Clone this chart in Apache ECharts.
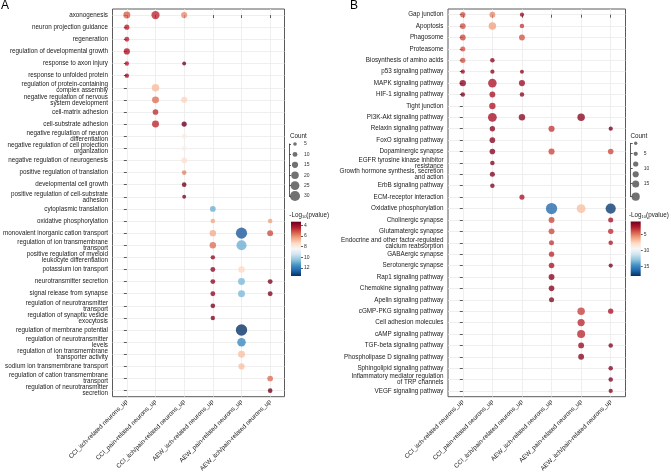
<!DOCTYPE html>
<html>
<head>
<meta charset="utf-8">
<script src="https://cdn.jsdelivr.net/npm/echarts@6/dist/echarts.min.js"></script>
<style>
  html, body { margin: 0; padding: 0; background: #fff; }
  #chart { width: 671px; height: 474px; }
</style>
</head>
<body>
<div id="chart"></div>
<script>
// columns (shared by both panels)
const groups = [
  "CCI_itch-related neurons_up",
  "CCI_pain-related neurons_up",
  "CCI_itch/pain-related neurons_up",
  "AEW_itch-related neurons_up",
  "AEW_pain-related neurons_up",
  "AEW_itch/pain-related neurons_up"
];

// panel A: GO terms
const termsA = [
  "axonogenesis",
  "neuron projection guidance",
  "regeneration",
  "regulation of developmental growth",
  "response to axon injury",
  "response to unfolded protein",
  "regulation of protein-containing\ncomplex assembly",
  "negative regulation of nervous\nsystem development",
  "cell-matrix adhesion",
  "cell-substrate adhesion",
  "negative regulation of neuron\ndifferentiation",
  "negative regulation of cell projection\norganization",
  "negative regulation of neurogenesis",
  "positive regulation of translation",
  "developmental cell growth",
  "positive regulation of cell-substrate\nadhesion",
  "cytoplasmic translation",
  "oxidative phosphorylation",
  "monovalent inorganic cation transport",
  "regulation of ion transmembrane\ntransport",
  "positive regulation of myeloid\nleukocyte differentiation",
  "potassium ion transport",
  "neurotransmitter secretion",
  "signal release from synapse",
  "regulation of neurotransmitter\ntransport",
  "regulation of synaptic vesicle\nexocytosis",
  "regulation of membrane potential",
  "regulation of neurotransmitter\nlevels",
  "regulation of ion transmembrane\ntransporter activity",
  "sodium ion transmembrane transport",
  "regulation of cation transmembrane\ntransport",
  "regulation of neurotransmitter\nsecretion"
];

// panel B: KEGG pathways
const termsB = [
  "Gap junction",
  "Apoptosis",
  "Phagosome",
  "Proteasome",
  "Biosynthesis of amino acids",
  "p53 signaling pathway",
  "MAPK signaling pathway",
  "HIF-1 signaling pathway",
  "Tight junction",
  "PI3K-Akt signaling pathway",
  "Relaxin signaling pathway",
  "FoxO signaling pathway",
  "Dopaminergic synapse",
  "EGFR tyrosine kinase inhibitor\nresistance",
  "Growth hormone synthesis, secretion\nand action",
  "ErbB signaling pathway",
  "ECM-receptor interaction",
  "Oxidative phosphorylation",
  "Cholinergic synapse",
  "Glutamatergic synapse",
  "Endocrine and other factor-regulated\ncalcium reabsorption",
  "GABAergic synapse",
  "Serotonergic synapse",
  "Rap1 signaling pathway",
  "Chemokine signaling pathway",
  "Apelin signaling pathway",
  "cGMP-PKG signaling pathway",
  "Cell adhesion molecules",
  "cAMP signaling pathway",
  "TGF-beta signaling pathway",
  "Phospholipase D signaling pathway",
  "Sphingolipid signaling pathway",
  "Inflammatory mediator regulation\nof TRP channels",
  "VEGF signaling pathway"
];

// [column, row, Count, -log10(pvalue)]
const dotsA = [
  [0, 0, 18, 5.4], [1, 0, 23, 4.6], [2, 0, 15, 6.0],
  [0, 1, 11, 4.5],
  [0, 2, 10, 4.5],
  [0, 3, 15, 4.3],
  [0, 4, 8, 4.4], [2, 4, 6, 3.5],
  [0, 5, 8, 4.1],
  [1, 6, 20, 6.8],
  [1, 7, 18, 5.6], [2, 7, 15, 7.3],
  [1, 8, 13, 4.7],
  [1, 9, 18, 4.6], [2, 9, 11, 3.4],
  [2, 10, 10, 8.0],
  [2, 11, 10, 8.1],
  [2, 12, 13, 7.6],
  [2, 13, 9, 5.9],
  [2, 14, 9, 3.5],
  [2, 15, 6, 3.6],
  [3, 16, 13, 10.9],
  [3, 17, 9, 6.4], [5, 17, 9, 6.3],
  [3, 18, 16, 6.5], [4, 18, 34, 12.7], [5, 18, 14, 5.1],
  [3, 19, 16, 5.6], [4, 19, 30, 10.9],
  [3, 20, 8, 3.9],
  [3, 21, 10, 3.9], [4, 21, 16, 7.4],
  [3, 22, 10, 3.9], [4, 22, 18, 10.7], [5, 22, 10, 3.7],
  [3, 23, 10, 3.9], [4, 23, 18, 10.7], [5, 23, 10, 3.7],
  [3, 24, 9, 3.7],
  [3, 25, 8, 3.7],
  [4, 26, 35, 13.4],
  [4, 27, 24, 11.7],
  [4, 28, 18, 6.9],
  [4, 29, 15, 6.9],
  [5, 30, 13, 5.6],
  [5, 31, 9, 3.5]
];

const dotsB = [
  [0, 0, 9, 4.3], [1, 0, 11, 5.5], [2, 0, 5, 2.4],
  [0, 1, 11, 4.2], [1, 1, 17, 6.1], [2, 1, 6, 3.7],
  [0, 2, 11, 4.0], [2, 2, 11, 4.3],
  [0, 3, 8, 4.2],
  [0, 4, 9, 4.3], [1, 4, 6, 2.0],
  [0, 5, 5, 2.3], [1, 5, 5, 2.0], [2, 5, 4, 2.0],
  [0, 6, 13, 2.0], [1, 6, 21, 2.7], [2, 6, 12, 2.3],
  [0, 7, 6, 1.9], [1, 7, 11, 2.7], [2, 7, 6, 2.0],
  [1, 8, 13, 2.8],
  [1, 9, 22, 2.5], [2, 9, 13, 2.0], [4, 9, 17, 1.9],
  [1, 10, 9, 1.9], [3, 10, 12, 3.6], [5, 10, 5, 1.5],
  [1, 11, 10, 1.9],
  [1, 12, 10, 1.8], [3, 12, 12, 3.9], [5, 12, 10, 4.0],
  [1, 13, 6, 1.8],
  [1, 14, 8, 1.8],
  [1, 15, 6, 1.8],
  [2, 16, 8, 2.7],
  [3, 17, 31, 16.0], [4, 17, 22, 7.0], [5, 17, 27, 17.5],
  [3, 18, 11, 3.9], [5, 18, 8, 2.6],
  [3, 19, 11, 4.0], [5, 19, 9, 3.3],
  [3, 20, 8, 3.6], [5, 20, 6, 2.8],
  [3, 21, 9, 3.2],
  [3, 22, 10, 2.7], [5, 22, 5, 1.5],
  [3, 23, 11, 1.8],
  [3, 24, 10, 1.8],
  [3, 25, 8, 1.8],
  [4, 26, 17, 3.8], [5, 26, 9, 2.7],
  [4, 27, 16, 3.2],
  [4, 28, 19, 3.2],
  [4, 29, 11, 2.2], [5, 29, 6, 1.8],
  [4, 30, 11, 1.9],
  [5, 31, 6, 1.8],
  [5, 32, 6, 1.8],
  [5, 33, 5, 1.8]
];

// legends
const countKeysA = [5, 10, 15, 20, 25, 30];
const countKeysB = [1.7, 5.2, 8.6, 12, 15.3, 19.5];
const countRangeB = [1.7, 19.5];
const countTicksB = [5, 10, 15];
const colorTicksA = [4, 6, 8, 10, 12];
const colorTicksB = [5, 10, 15];
const colorRangeA = [3.33, 13.5];
const colorRangeB = [1.1, 17.9];

// RdBu, low -log10(p) = dark red
const rdbu = ["#67001f", "#b2182b", "#d6604d", "#f4a582", "#fddbc7", "#f7f7f7",
  "#d1e5f0", "#92c5de", "#4393c3", "#2166ac", "#053061"];

const FONT = "Liberation Sans, Arial, sans-serif";
const TXT = "#1a1a1a";
const sizeA = c => 2.3 + 0.26 * c;
const sizeB = c => 2.9 + 0.27 * c;

const gridA = { left: 108.5, top: 9, width: 176, height: 390 };
const gridB = { left: 448, top: 9, width: 177.5, height: 390 };
const cbarA = { left: 291, top: 221.7, width: 10, height: 54.3 };
const cbarB = { left: 630.7, top: 221.5, width: 10, height: 54.5 };

const idx = n => Array.from({ length: n }, (_, i) => i);
const tickLine = { color: "#333", width: 0.8 };

function mainX(gi) {
  return {
    gridIndex: gi, type: "value", min: -0.5, max: groups.length - 0.5,
    minInterval: 1, maxInterval: 1,
    axisLine: { show: false },
    axisTick: { show: true, length: 3, customValues: idx(groups.length), lineStyle: tickLine },
    axisLabel: { customValues: idx(groups.length), rotate: 45, fontSize: 6.3,
      color: TXT, margin: 4, fontFamily: FONT, formatter: v => groups[v] || "" },
    splitLine: { show: true, lineStyle: { color: "#ebebeb", width: 0.8 } }
  };
}

function mainY(gi, terms) {
  return {
    gridIndex: gi, type: "value", inverse: true, min: -0.5, max: terms.length - 0.5,
    minInterval: 1, maxInterval: 1,
    axisLine: { show: false },
    axisTick: { show: true, length: 3, customValues: idx(terms.length), lineStyle: tickLine },
    axisLabel: { customValues: idx(terms.length), fontSize: 6.3, lineHeight: 6,
      color: TXT, margin: 4.5, fontFamily: FONT, formatter: v => terms[v] || "" },
    splitLine: { show: true, lineStyle: { color: "#ebebeb", width: 0.8 } }
  };
}

// size key, panel A: one labelled key per row
const legendYA = {
  gridIndex: 2, type: "category", data: countKeysA.map(String),
  boundaryGap: false, inverse: true, position: "right",
  axisLine: { show: true, lineStyle: tickLine },
  axisTick: { show: true, length: 2, lineStyle: tickLine },
  axisLabel: { fontSize: 5, margin: 3, color: "#333", fontFamily: FONT },
  splitLine: { show: false }
};

// size key, panel B: keys on a continuous count bar
const legendYB = {
  gridIndex: 3, type: "value", inverse: true, min: countRangeB[0], max: countRangeB[1],
  position: "right",
  axisLine: { show: true, lineStyle: tickLine },
  axisTick: { show: true, length: 2, customValues: [countRangeB[0]].concat(countTicksB, [countRangeB[1]]),
    lineStyle: tickLine },
  axisLabel: { customValues: countTicksB, fontSize: 5, margin: 3, color: "#333", fontFamily: FONT },
  splitLine: { show: false }
};

function cbarY(gi, range, ticks) {
  return {
    gridIndex: gi, type: "value", inverse: true, min: range[0], max: range[1],
    position: "right",
    axisLine: { show: false },
    axisTick: { show: true, length: 2, customValues: ticks, lineStyle: tickLine },
    axisLabel: { customValues: ticks, fontSize: 5, margin: 3, color: "#333", fontFamily: FONT },
    splitLine: { show: false }
  };
}

function gradient(box) {
  return new echarts.graphic.LinearGradient(0, box.top, 0, box.top + box.height,
    rdbu.map((c, i) => ({ offset: i / (rdbu.length - 1), color: c })), true);
}

const hiddenX = gi => ({ gridIndex: gi, type: "value", min: 0, max: 1, show: false });
const hiddenCat = gi => ({ gridIndex: gi, type: "category", data: [""], show: false });
const sub = { sub: { fontSize: 4, padding: [3, 0, 0, 0], fontFamily: FONT, fill: TXT } };

const chart = echarts.init(document.getElementById("chart"));
chart.setOption({
  animation: false,
  backgroundColor: "#fff",
  textStyle: { fontFamily: FONT },
  grid: [
    Object.assign({ show: true, borderColor: "#5a5a5a", borderWidth: 1 }, gridA),
    Object.assign({ show: true, borderColor: "#5a5a5a", borderWidth: 1 }, gridB),
    { left: 289, top: 144, width: 12, height: 52 },
    { left: 630.7, top: 143.3, width: 10, height: 53.4 },
    cbarA,
    cbarB
  ],
  xAxis: [mainX(0), mainX(1), hiddenX(2), hiddenX(3), hiddenCat(4), hiddenCat(5)],
  yAxis: [
    mainY(0, termsA), mainY(1, termsB),
    legendYA, legendYB,
    cbarY(4, colorRangeA, colorTicksA), cbarY(5, colorRangeB, colorTicksB)
  ],
  visualMap: [
    { show: false, seriesIndex: 0, dimension: 3, min: colorRangeA[0], max: colorRangeA[1],
      inRange: { color: rdbu } },
    { show: false, seriesIndex: 1, dimension: 3, min: colorRangeB[0], max: colorRangeB[1],
      inRange: { color: rdbu } }
  ],
  series: [
    { type: "scatter", xAxisIndex: 0, yAxisIndex: 0, data: dotsA,
      symbolSize: v => sizeA(v[2]), silent: true },
    { type: "scatter", xAxisIndex: 1, yAxisIndex: 1, data: dotsB,
      symbolSize: v => sizeB(v[2]), silent: true },
    { type: "scatter", xAxisIndex: 2, yAxisIndex: 2, silent: true,
      data: countKeysA.map((c, i) => [0.5, i, c]),
      symbolSize: v => sizeA(v[2]), itemStyle: { color: "#4d4d4d" } },
    { type: "scatter", xAxisIndex: 3, yAxisIndex: 3, silent: true,
      data: countKeysB.map(c => [0.5, c, c]),
      symbolSize: v => sizeB(v[2]), itemStyle: { color: "#4d4d4d" } },
    { type: "bar", xAxisIndex: 4, yAxisIndex: 4, silent: true, clip: true,
      data: [colorRangeA[1]], barWidth: "100%", itemStyle: { color: gradient(cbarA) } },
    { type: "bar", xAxisIndex: 5, yAxisIndex: 5, silent: true, clip: true,
      data: [colorRangeB[1]], barWidth: "100%", itemStyle: { color: gradient(cbarB) } }
  ],
  graphic: [
    { type: "text", left: 1, top: 0, style: { text: "A", fontSize: 12, fill: "#000", fontFamily: FONT } },
    { type: "text", left: 350, top: 0, style: { text: "B", fontSize: 12, fill: "#000", fontFamily: FONT } },
    { type: "text", left: 290, top: 133, style: { text: "Count", fontSize: 6.3, fill: TXT, fontFamily: FONT } },
    { type: "text", left: 630.5, top: 133, style: { text: "Count", fontSize: 6.3, fill: TXT, fontFamily: FONT } },
    { type: "text", left: 289.3, top: 212, style: { text: "-Log{sub|10}(pvalue)", fontSize: 6.3, fill: TXT,
      fontFamily: FONT, rich: sub } },
    { type: "text", left: 629, top: 212, style: { text: "-Log{sub|10}(pvalue)", fontSize: 6.3, fill: TXT,
      fontFamily: FONT, rich: sub } }
  ]
});
</script>
</body>
</html>
